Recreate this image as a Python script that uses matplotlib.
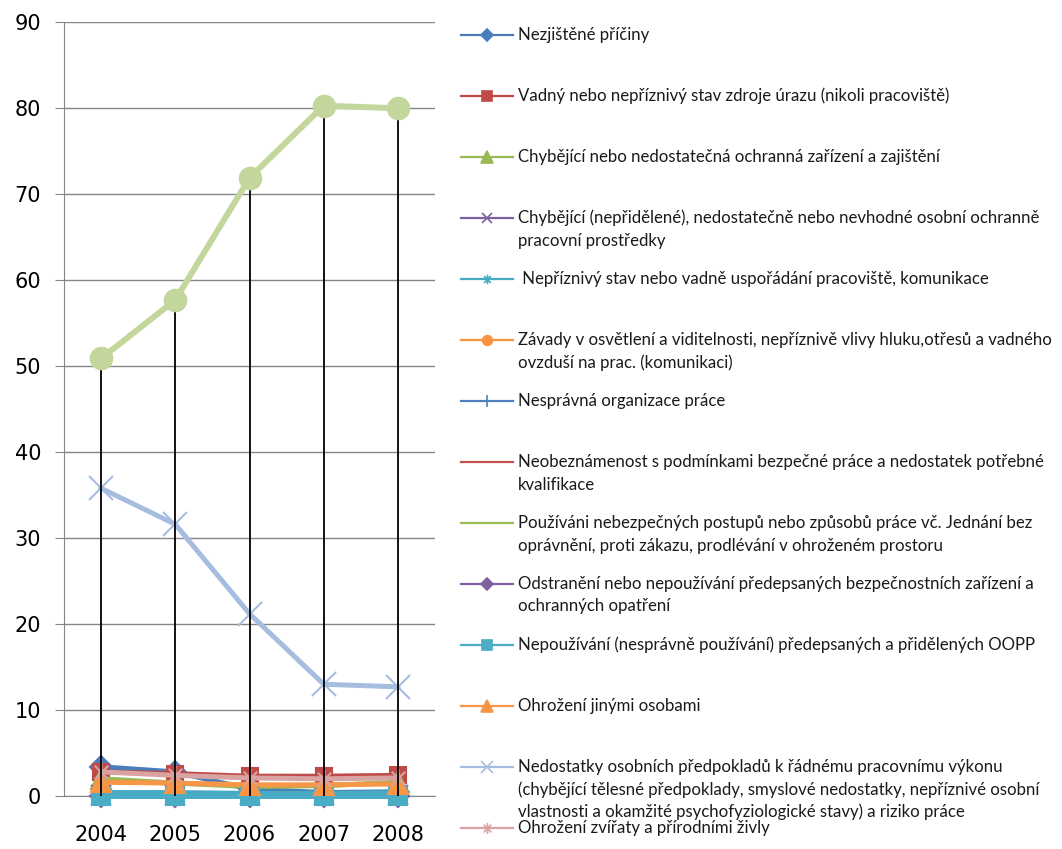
import matplotlib
matplotlib.use("Agg")
import matplotlib.pyplot as plt
from matplotlib.path import Path

W, H = 1062, 849

years = ["2004", "2005", "2006", "2007", "2008"]

names = [
    "Nezjištěné příčiny",
    "Vadný nebo nepříznivý stav zdroje úrazu (nikoli pracoviště)",
    "Chybějící nebo nedostatečná ochranná zařízení a zajištění",
    "Chybějící (nepřidělené), nedostatečně nebo nevhodné osobní ochranně\npracovní prostředky",
    " Nepříznivý stav nebo vadně uspořádání pracoviště, komunikace",
    "Závady v osvětlení a viditelnosti, nepříznivě vlivy hluku,otřesů a vadného\novzduší na prac. (komunikaci)",
    "Nesprávná organizace práce",
    "Neobeznámenost s podmínkami bezpečné práce a nedostatek potřebné\nkvalifikace",
    "Používáni nebezpečných postupů nebo způsobů práce vč. Jednání bez\noprávnění, proti zákazu, prodlévání v ohroženém prostoru",
    "Odstranění nebo nepoužívání předepsaných bezpečnostních zařízení a\nochranných opatření",
    "Nepoužívání (nesprávně používání) předepsaných a přidělených OOPP",
    "Ohrožení jinými osobami",
    "Nedostatky osobních předpokladů k řádnému pracovnímu výkonu\n(chybějící tělesné předpoklady, smyslové nedostatky, nepříznivé osobní\nvlastnosti a okamžité psychofyziologické stavy) a riziko práce",
    "Ohrožení zvířaty a přírodními živly",
]

# values per series, 2004..2008 (percent)
nezjistene = [3.4, 2.8, 0.8, 0.4, 0.5]
vadny_zdroj = [2.8, 2.6, 2.3, 2.3, 2.4]
chybejici_zarizeni = [2.0, 1.5, 1.1, 1.2, 1.6]
chybejici_oopp = [0.1, 0.1, 0.1, 0.1, 0.1]
nepriznivy_stav = [0.4, 0.4, 0.3, 0.3, 0.4]
zavady_osvetleni = [0.0, 0.0, 0.0, 0.0, 0.0]
nespravna_org = [0.0, 0.0, 0.0, 0.0, 0.0]
neobeznamenost = [0.0, 0.0, 0.0, 0.0, 0.0]
nebezpecne_postupy = [0.0, 0.0, 0.0, 0.0, 0.0]
odstraneni_zarizeni = [0.0, 0.0, 0.0, 0.0, 0.0]
nepouzivani_oopp = [0.0, 0.0, 0.0, 0.0, 0.0]
jine_osoby = [1.6, 1.5, 1.3, 1.3, 1.4]
osobni_predpoklady = [35.8, 31.6, 21.2, 13.0, 12.7]
zvirata = [2.8, 2.4, 2.1, 2.0, 2.1]
# 15th series, not shown in the (cut) legend
ostatni = [50.9, 57.7, 71.9, 80.3, 80.0]

series = [nezjistene, vadny_zdroj, chybejici_zarizeni, chybejici_oopp,
          nepriznivy_stav, zavady_osvetleni, nespravna_org, neobeznamenost,
          nebezpecne_postupy, odstraneni_zarizeni, nepouzivani_oopp,
          jine_osoby, osobni_predpoklady, zvirata]

colors = ["#4a7ebb", "#be4b48", "#98b954", "#7d60a0", "#46aac5", "#f69240",
          "#4f81bd", "#c0504d", "#9bbb59", "#7d60a0", "#4bacc6", "#f79646",
          "#a7bde0", "#d9a3a2"]
green_light = "#c3d69b"

# excel style "star" marker: x with a vertical bar
star = Path([(0, -1), (0, 1), (-0.7, -0.7), (0.7, 0.7), (-0.7, 0.7), (0.7, -0.7)],
            [Path.MOVETO, Path.LINETO, Path.MOVETO, Path.LINETO, Path.MOVETO, Path.LINETO])
markers = ["D", "s", "^", "x", star, "o", "+", "_", "_", "D", "s", "^", "x", star]
plot_ms = [11, 12, 15, 14, 14, 12, 14, 8, 6, 11, 13, 15, 17, 14]
leg_ms = [6, 7, 8, 7, 7, 7, 8, 5, 4, 6, 7, 8, 8, 8]

fig = plt.figure(figsize=(W / 100, H / 100), dpi=100)
ax = fig.add_axes([64 / W, 1 - 796 / H, (435 - 64) / W, (796 - 22.3) / H])

x = list(range(len(years)))
for i, vals in enumerate(series):
    ax.plot(x, vals, color=colors[i], lw=3.6, marker=markers[i], ms=plot_ms[i],
            mfc=colors[i], mec=colors[i], mew=1.5, zorder=3 + i * 0.01,
            solid_joinstyle="round", clip_on=False)

# drop lines from the highest point to the axis
tops = [max(col) for col in zip(*(series + [ostatni]))]
ax.vlines(x, 0, tops, color="black", lw=1.3, zorder=4)

ax.plot(x, ostatni, color=green_light, lw=4.3, marker="o", ms=16,
        mfc=green_light, mec=green_light, zorder=5, solid_joinstyle="round")

ax.set_xlim(-0.5, 4.5)
ax.set_ylim(0, 90)
ax.set_yticks(range(0, 91, 10))
ax.set_xticks(x)
ax.set_xticklabels(years)
ax.yaxis.grid(True, color="#868686", lw=1)
ax.set_axisbelow(True)
for s in ["top", "right"]:
    ax.spines[s].set_visible(False)
for s in ["left", "bottom"]:
    ax.spines[s].set_color("#868686")
ax.tick_params(axis="y", length=6.5, color="#868686", pad=10, labelsize=15)
ax.tick_params(axis="x", length=0, pad=21, labelsize=15)

# legend, laid out like the excel one: fixed pitch, marker on first text line
lax = fig.add_axes([0, 0, 1, 1])
lax.set_xlim(0, W)
lax.set_ylim(H, 0)
lax.axis("off")
pitch = 61
line_h = 22.5
for i, name in enumerate(names):
    y = 35 + pitch * i
    lax.plot([461, 513], [y, y], color=colors[i], lw=1.6)
    lax.plot([487], [y], ls="none", marker=markers[i], ms=leg_ms[i],
             mfc=colors[i], mec=colors[i], mew=1.2)
    for j, part in enumerate(name.split("\n")):
        lax.text(518, y + j * line_h, part, va="center", ha="left",
                 fontsize=12.1, family="Lato", color="#1a1a1a")

fig.savefig("out.png", dpi=100)
